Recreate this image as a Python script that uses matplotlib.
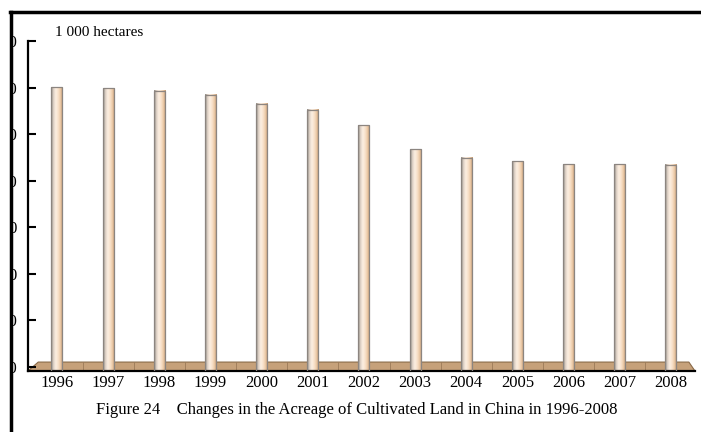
import numpy as np
import matplotlib
matplotlib.use("Agg")
import matplotlib.pyplot as plt
from matplotlib.colors import LinearSegmentedColormap
from matplotlib.patches import Polygon, Rectangle
from matplotlib.lines import Line2D

years = ["1996", "1997", "1998", "1999", "2000", "2001", "2002",
         "2003", "2004", "2005", "2006", "2007", "2008"]
values = [130039, 129903, 129642, 129206, 128243, 127616, 125930,
          123392, 122444, 122083, 121776, 121735, 121716]
yticks = [100000, 105000, 110000, 115000, 120000, 125000, 130000, 135000]
ytick_labels = ["100 000", "105 000", "110 000", "115 000",
                "120 000", "125 000", "130 000", "135 000"]
unit_label = "1 000 hectares"
caption = "Figure 24    Changes in the Acreage of Cultivated Land in China in 1996-2008"

plt.rcParams['font.family'] = ['Liberation Serif', 'DejaVu Serif']

fig = plt.figure(figsize=(7.01, 4.32), dpi=100)
fig.patch.set_facecolor('white')
ax = fig.add_axes([28/701, (432-371)/432, (695-28)/701, (371-41)/432])
ax.set_facecolor('none')

ybot = 99540
ytop = 135000
xl, xr = -0.566, 12.47
yfloor = 100500

# floor slab
floor = Polygon([(xl, ybot), (xl + 0.2, yfloor), (xr - 0.12, yfloor), (xr, ybot)],
                closed=True, facecolor='#c6a17a', edgecolor='#8a6a48', lw=0.8, zorder=1)
ax.add_patch(floor)
for i in range(len(years)):
    for off in (-0.5, 0.0):
        xx = i + off
        if xl + 0.2 < xx < xr - 0.1:
            ax.add_line(Line2D([xx, xx], [ybot, yfloor], color='#9c7a58', lw=0.6, zorder=1.5))

# cylindrical bars
cmap = LinearSegmentedColormap.from_list(
    'cyl', ['#8f8a86', '#ddd0c4', '#fcefe2', '#f8e2cc', '#ecc9a6', '#bf9a74'])
grad = np.linspace(0, 1, 64).reshape(1, -1)
w = 0.215
xs = np.arange(len(years))
for x, v in zip(xs, values):
    ax.imshow(grad, cmap=cmap, aspect='auto', extent=[x - w/2, x + w/2, ybot, v],
              zorder=2, interpolation='bilinear')
    ax.add_patch(Rectangle((x - w/2, ybot), w, v - ybot, fill=False,
                           edgecolor='#8c8580', lw=0.9, zorder=3))
ax.set_xlim(xl, xr)
ax.set_ylim(ybot, ytop)

ax.set_xticks(xs)
ax.set_xticklabels(years, fontsize=12)
ax.tick_params(axis='x', length=0, pad=3)
ax.set_yticks(yticks)
ax.set_yticklabels(ytick_labels, fontsize=12)
ax.tick_params(axis='y', direction='in', length=6, width=1.5, pad=8)

for s in ('top', 'right'):
    ax.spines[s].set_visible(False)
ax.spines['left'].set_linewidth(1.6)
ax.spines['bottom'].set_linewidth(1.6)

fig.text(55/701, 1 - 33/432, unit_label, fontsize=11, va='center', ha='left')
fig.text(357/701, 1 - 410/432, caption, fontsize=12, va='center', ha='center')

# scan frame
fig.patches.append(Rectangle((0, 0), 10/701, 1, transform=fig.transFigure,
                             facecolor='white', edgecolor='none', zorder=10))
fig.patches.append(Rectangle((0, 1 - 11/432), 1, 11/432, transform=fig.transFigure,
                             facecolor='white', edgecolor='none', zorder=10))
fig.lines.append(Line2D([11/701, 11/701], [0, 1 - 12/432], transform=fig.transFigure,
                        color='black', lw=2.5, zorder=11))
fig.lines.append(Line2D([10/701, 1], [1 - 12/432, 1 - 12/432], transform=fig.transFigure,
                        color='black', lw=2.5, zorder=11))

fig.savefig('out.png', dpi=100)
